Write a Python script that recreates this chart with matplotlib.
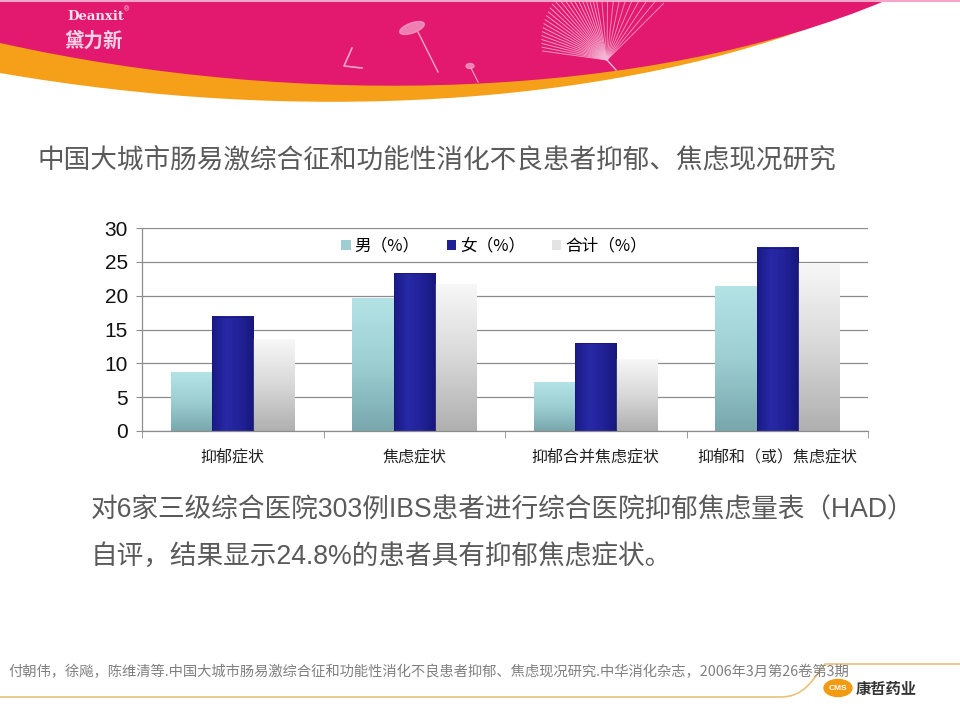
import numpy as np
import matplotlib
matplotlib.use('Agg')
import matplotlib.pyplot as plt
from matplotlib.path import Path
from matplotlib.patches import PathPatch, Patch, Ellipse
from matplotlib.colors import to_rgb

plt.rcParams['font.family'] = ['Liberation Sans', 'Noto Sans CJK SC', 'DejaVu Sans']

# ---- data ----
categories = ['抑郁症状', '焦虑症状', '抑郁合并焦虑症状', '抑郁和（或）焦虑症状']
series_names = ['男（%）', '女（%）', '合计（%）']
male = [8.6, 19.6, 7.1, 21.3]
female = [16.9, 23.3, 13.0, 27.1]
total = [13.5, 21.6, 10.5, 24.7]
yticks = [0, 5, 10, 15, 20, 25, 30]

title = '中国大城市肠易激综合征和功能性消化不良患者抑郁、焦虑现况研究'
body1 = '对6家三级综合医院303例IBS患者进行综合医院抑郁焦虑量表（HAD）'
body2 = '自评，结果显示24.8%的患者具有抑郁焦虑症状。'
citation = ('付朝伟，徐飚，陈维清等.中国大城市肠易激综合征和功能性消化不良患者抑郁、'
            '焦虑现况研究.中华消化杂志，2006年3月第26卷第3期')

PINK = '#e2196f'
ORANGE = '#f6a01a'
TEXT_GRAY = '#5a5a5a'

fig = plt.figure(figsize=(9.6, 7.2), dpi=100)

# ---- slide background in pixel coordinates ----
bg = fig.add_axes([0, 0, 1, 1])
bg.set_xlim(0, 960)
bg.set_ylim(720, 0)
bg.axis('off')

C4 = Path.CURVE4
orange_path = Path([(0, 0), (0, 73), (300, 125), (600, 105), (815, 26), (815, 0), (0, 0)],
                   [Path.MOVETO, Path.LINETO, C4, C4, C4, Path.LINETO, Path.CLOSEPOLY])
bg.add_patch(PathPatch(orange_path, facecolor=ORANGE, edgecolor='none', zorder=1))
pink_path = Path([(0, 0), (0, 43), (300, 110), (650, 100), (887, 0), (0, 0)],
                 [Path.MOVETO, Path.LINETO, C4, C4, C4, Path.CLOSEPOLY])
bg.add_patch(PathPatch(pink_path, facecolor=PINK, edgecolor='none', zorder=2))
bg.plot([0, 960], [1, 1], color='#f4a6c8', lw=1.5, zorder=2)

# dandelion decoration
cx, cy = 607, 60
for ang in np.linspace(100, 172, 24):
    a = np.deg2rad(ang)
    r = 90 - 25 * (ang - 100) / 72
    bg.plot([cx, cx + r * np.cos(a)], [cy, cy - r * np.sin(a)],
            color='#f5b9d6', lw=0.7, alpha=0.8, zorder=3)
for ang in np.linspace(45, 95, 10):
    a = np.deg2rad(ang)
    bg.plot([cx, cx + 80 * np.cos(a)], [cy, cy - 80 * np.sin(a)],
            color='#f5b9d6', lw=0.7, alpha=0.7, zorder=3)
bg.plot([cx, 616], [cy, 70], color='#f5b9d6', lw=1, zorder=3)
bg.add_patch(Ellipse((412, 28), 26, 10, angle=-20, color='#f29ac3', alpha=0.8, zorder=3))
bg.plot([418, 438], [32, 72], color='#f2a6c9', lw=1, zorder=3)
bg.add_patch(Ellipse((470, 66), 8, 5, color='#f29ac3', alpha=0.8, zorder=3))
bg.plot([471, 478], [68, 82], color='#f2a6c9', lw=0.8, zorder=3)
bg.plot([352, 344, 362], [48, 66, 68], color='#f2a6c9', lw=1.2, zorder=3)

bg.text(67, 16, 'Deanxit', fontsize=9.5, fontweight='bold', color='#fbe3ef',
        family='DejaVu Serif', va='center', ha='left', zorder=4)
bg.text(124, 10, '®', fontsize=5, color='#fbe3ef', va='center', zorder=4)
bg.text(64, 41, '黛力新', fontsize=14, fontweight='bold', color='#f9d3e6',
        family=['Noto Sans CJK SC'], va='center', ha='left', zorder=4)

bg.text(38, 160, title, fontsize=19.2, color=TEXT_GRAY, va='center', ha='left',
        family=['Noto Sans CJK SC'])
bg.text(91, 510, body1, fontsize=19.2, color=TEXT_GRAY, va='center', ha='left')
bg.text(91, 557, body2, fontsize=19.2, color=TEXT_GRAY, va='center', ha='left')

# footer
bg.text(8, 672, citation, fontsize=10.3, color='#808080', va='center', ha='left',
        family=['Noto Sans CJK SC'])
foot = Path([(0, 697), (780, 697), (805, 697), (812, 680), (825, 664), (960, 664)],
            [Path.MOVETO, Path.LINETO, C4, C4, C4, Path.LINETO])
bg.add_patch(PathPatch(foot, facecolor='none', edgecolor='#e8c27a', lw=1.2))
bg.add_patch(Ellipse((838, 688), 28, 17, color='#f29b12', zorder=4))
bg.text(838, 688, 'CMS', fontsize=6, color='white', fontweight='bold',
        ha='center', va='center', zorder=5)
bg.text(856, 689, '康哲药业', fontsize=11, color='#333333', fontweight='bold',
        ha='left', va='center', family=['Noto Sans CJK SC'])

# ---- chart ----
ax = fig.add_axes([142 / 960, 1 - 431 / 720, 726 / 960, 203 / 720])
ax.set_facecolor('none')
x = np.arange(len(categories))
w = 0.227

b_male = ax.bar(x - w, male, w, color='none', edgecolor='none', zorder=2)
b_female = ax.bar(x, female, w, color='none', edgecolor='#17177a', lw=0.6, zorder=3)
b_total = ax.bar(x + w, total, w, color='none', edgecolor='none', zorder=2)


def fill_gradient(patch, stops, vertical=True):
    cols = np.array([to_rgb(c) for c in stops])
    t = np.linspace(0, 1, 64)
    pos = np.linspace(0, 1, len(cols))
    grad = np.stack([np.interp(t, pos, cols[:, k]) for k in range(3)], axis=-1)
    if vertical:
        img = grad[:, None, :].repeat(4, axis=1)      # rows bottom -> top
    else:
        img = grad[None, :, :].repeat(4, axis=0)      # cols left -> right
    x0, y0 = patch.get_x(), patch.get_y()
    ax.imshow(img, extent=(x0, x0 + patch.get_width(), y0, y0 + patch.get_height()),
              origin='lower', aspect='auto', interpolation='bilinear', zorder=2)


for p in b_male:
    fill_gradient(p, ['#78a8ad', '#9cced2', '#b4e3e6'])
for p in b_female:
    fill_gradient(p, ['#1a1a86', '#2729a6', '#222298', '#17177c'], vertical=False)
for p in b_total:
    fill_gradient(p, ['#b0b0b0', '#d8d8d8', '#f7f7f7'])

ax.set_xlim(-0.5, len(categories) - 0.5)
ax.set_ylim(0, 30)
ax.set_yticks(yticks)
ax.grid(axis='y', color='#8c8c8c', lw=0.9, zorder=0)
ax.set_axisbelow(True)
for s in ['top', 'right']:
    ax.spines[s].set_visible(False)
for s in ['left', 'bottom']:
    ax.spines[s].set_color('#8c8c8c')
    ax.spines[s].set_linewidth(0.9)

ax.set_xticks(x)
ax.set_xticklabels(categories, family=['Noto Sans CJK SC'], fontsize=11.5, color='#222222')
ax.set_xticks(np.arange(-0.5, len(categories)), minor=True)
ax.tick_params(axis='x', which='major', length=0, pad=13)
ax.tick_params(axis='x', which='minor', length=5, color='#8c8c8c', direction='out')
ax.tick_params(axis='y', length=4, color='#8c8c8c', labelsize=15, pad=6, labelcolor='#111111')

handles = [Patch(facecolor='#9cced2', edgecolor='none'),
           Patch(facecolor='#1f1f95', edgecolor='none'),
           Patch(facecolor='#e3e3e3', edgecolor='none')]
ax.legend(handles, series_names, ncol=3, frameon=False, loc='center',
          bbox_to_anchor=(0.485, 0.91), prop={'family': ['Noto Sans CJK SC'], 'size': 12},
          handlelength=0.55, handleheight=0.6, handletextpad=0.25, columnspacing=1.6)

fig.savefig('out.png', dpi=100)
